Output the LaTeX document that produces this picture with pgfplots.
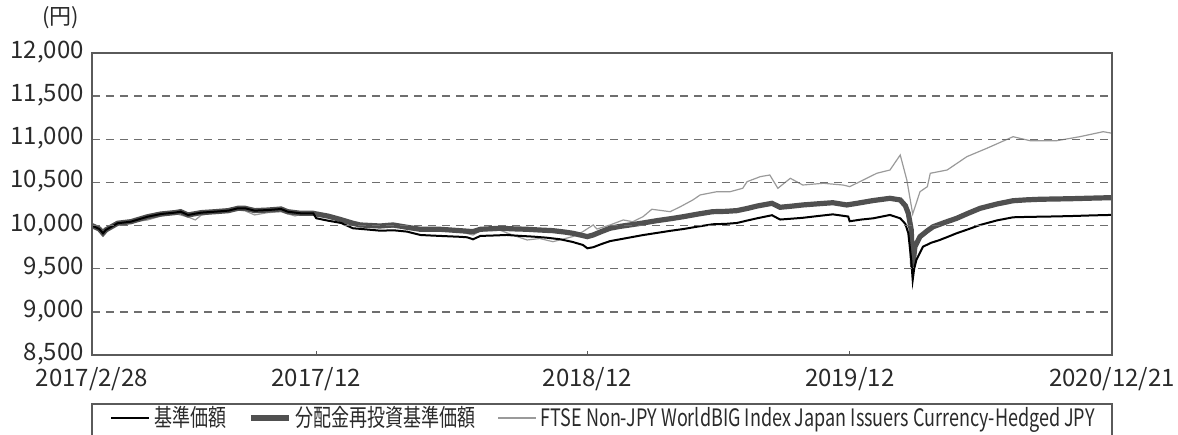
\documentclass[border=0pt]{standalone}
\usepackage{pgfplots}
\pgfplotsset{compat=1.18}
\usepackage{fontspec}
\setmainfont{Noto Sans CJK JP}
\newfontfamily\legfont{Noto Sans CJK JP}[FakeStretch=0.75]
\definecolor{frame}{HTML}{5A5A5A}
\definecolor{gridc}{HTML}{6E6E6E}
\definecolor{reinv}{HTML}{505050}
\definecolor{idx}{HTML}{9A9A9A}
\definecolor{txt}{HTML}{2A2A2A}

\pgfplotstableread{
d v
0 10000
10 9960
15 9911
19 9950
35 10027
53 10045
76 10103
94 10134
113 10150
121 10161
131 10123
149 10150
168 10161
186 10173
199 10200
209 10200
222 10173
240 10180
258 10192
267 10161
285 10142
302 10142
306 10085
322 10057
340 10030
356 9969
375 9955
393 9941
412 9945
430 9930
448 9891
462 9885
475 9880
502 9870
512 9864
520 9841
530 9880
548 9885
566 9891
585 9880
602 9872
620 9860
639 9841
656 9810
670 9775
676 9737
684 9749
695 9785
707 9820
720 9840
734 9862
752 9890
771 9915
790 9940
807 9960
828 9990
847 10015
865 10020
880 10030
895 10060
908 10085
928 10120
939 10070
955 10080
970 10090
990 10110
1011 10130
1032 10105
1034 10050
1050 10070
1066 10084
1089 10123
1103 10084
1110 10020
1114 9911
1118 9601
1120 9370
1122 9500
1125 9601
1134 9755
1145 9800
1157 9833
1168 9870
1180 9911
1195 9955
1212 10007
1235 10060
1257 10096
1275 10100
1294 10103
1315 10106
1339 10111
1365 10118
1389 10123
1392 10125
}\basedata

\pgfplotstableread{
d v
0 10000
10 9960
15 9911
19 9950
35 10027
53 10045
76 10103
94 10134
113 10150
121 10161
131 10123
149 10150
168 10161
186 10173
199 10200
209 10200
222 10173
240 10180
258 10192
267 10161
285 10142
302 10142
306 10135
322 10110
338 10073
356 10027
366 10007
393 9995
411 10007
430 9980
448 9957
475 9957
502 9941
520 9930
530 9957
557 9969
575 9962
594 9957
612 9948
629 9941
645 9925
656 9911
676 9872
684 9891
695 9930
707 9969
720 9990
734 10007
752 10030
771 10057
790 10080
807 10103
828 10135
847 10161
865 10165
880 10173
895 10200
908 10227
928 10258
939 10212
955 10225
970 10239
990 10252
1011 10265
1030 10239
1044 10258
1066 10290
1089 10316
1103 10297
1110 10230
1114 10142
1118 9950
1120 9524
1123 9755
1130 9872
1140 9940
1148 9987
1165 10040
1180 10084
1195 10140
1212 10200
1235 10250
1257 10288
1275 10298
1294 10305
1315 10308
1339 10312
1365 10318
1389 10323
1392 10322
}\reinvdata

\pgfplotstableread{
d v
0 10000
15 9920
19 9950
35 10020
53 10040
76 10065
94 10110
113 10140
131 10100
141 10065
149 10120
168 10150
186 10160
199 10180
209 10170
222 10123
240 10150
258 10160
277 10111
285 10130
302 10130
322 10100
338 10065
356 10020
393 9990
430 9970
457 9950
475 9955
502 9930
520 9890
530 9940
557 9945
580 9872
594 9833
611 9850
629 9813
656 9872
670 9930
684 10007
689 9960
707 10007
725 10065
738 10045
752 10103
764 10189
789 10161
803 10219
820 10297
830 10355
853 10393
871 10393
888 10432
894 10509
912 10567
925 10586
936 10432
953 10548
970 10470
998 10490
1025 10470
1034 10451
1048 10509
1071 10606
1089 10644
1103 10818
1112 10528
1120 10134
1130 10393
1140 10451
1144 10606
1167 10644
1194 10799
1221 10895
1257 11030
1280 10984
1317 10984
1348 11030
1380 11088
1392 11070
}\idxdata

\begin{document}
\begin{tikzpicture}
\begin{axis}[
  name=ax,
  scale only axis,
  width=510pt, height=151pt,
  xmin=0, xmax=1392,
  ymin=8500, ymax=12000,
  ytick={8500,9000,...,12000},
  scaled y ticks=false,
  xtick={0,306,676,1034,1392},
  xticklabels={2017/2/28,2017/12,2018/12,2019/12,2020/12/21},
  yticklabel={\pgfmathprintnumber[assume math mode=true, 1000 sep={,}, fixed, precision=0]{\tick}},
  ticklabel style={font=\fontsize{12}{14}\selectfont, text=txt},
  yticklabel style={xshift=-0.5pt, yshift=0.5pt},
  xticklabel style={yshift=-2.5pt},
  axis line style={draw=frame, line width=0.6pt},
  ymajorgrids,
  grid style={dash pattern=on 4pt off 3pt, draw=gridc, line width=0.7pt},
  ytick style={draw=none},
  xtick pos=lower,
  tick align=inside,
  major tick length=2pt,
  xtick style={draw=frame, line width=0.6pt},
  axis on top,
  clip mode=individual,
  reverse legend,
  legend columns=3,
  legend style={at={(0,0)}, anchor=west, xshift=8pt, yshift=-31.5pt,
    draw=none, fill=none, font=\legfont\fontsize{12}{14}\selectfont, text=txt,
    /tikz/every even column/.append style={column sep=9pt},
    inner sep=1pt},
  legend cell align=left,
  legend image code/.code={\draw[#1] (0pt,0pt) -- (19pt,0pt);},
]
\addplot[idx, line width=0.6pt] table[x=d, y=v] {\idxdata};
\addplot[reinv, line width=2.6pt] table[x=d, y=v] {\reinvdata};
\addplot[black, line width=1.0pt] table[x=d, y=v] {\basedata};
\legend{FTSE Non-JPY WorldBIG Index Japan Issuers Currency-Hedged JPY,分配金再投資基準価額,基準価額}
\node[anchor=east, font=\fontsize{11}{13}\selectfont, text=txt] at ([xshift=-3pt, yshift=17.5pt]rel axis cs:0,1) {(円)};
\end{axis}
\draw[frame, line width=0.6pt] ([yshift=-24.5pt]ax.south west) rectangle ([yshift=-46pt]ax.south east);
\pgfresetboundingbox
\useasboundingbox ([xshift=-46pt, yshift=-39.5pt]ax.south west) rectangle ([xshift=33pt, yshift=26.5pt]ax.north east);
\end{tikzpicture}
\end{document}
